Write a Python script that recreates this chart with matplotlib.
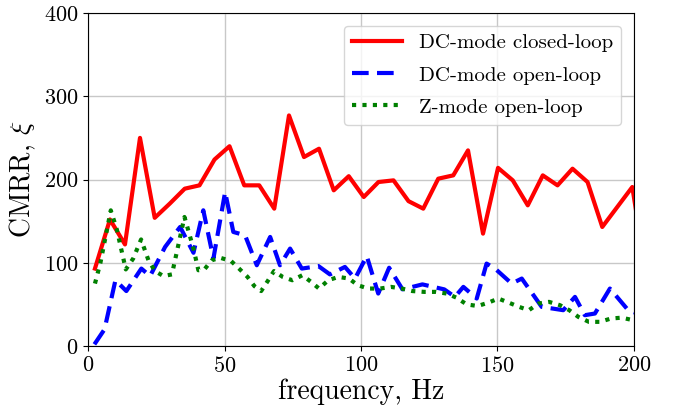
import matplotlib
matplotlib.use("Agg")
import matplotlib.pyplot as plt

plt.rcParams["font.family"] = "serif"
plt.rcParams["font.serif"] = ["cmr10", "DejaVu Serif"]
plt.rcParams["mathtext.fontset"] = "cm"
plt.rcParams["axes.formatter.use_mathtext"] = True

# DC-mode closed-loop
f_closed = [2.5, 8.0, 13.5, 19.0, 24.4, 29.9, 35.4, 40.8, 46.3, 51.8, 57.2, 62.7,
            68.2, 73.6, 79.1, 84.6, 90.0, 95.5, 101.0, 106.4, 111.9, 117.4, 122.8,
            128.3, 133.8, 139.2, 144.7, 150.2, 155.6, 161.1, 166.6, 172.0, 177.5,
            183.0, 188.4, 193.9, 199.4, 204.8]
cmrr_closed = [93, 152, 122, 250, 154, 171, 189, 193, 224, 240, 193, 193, 165, 277,
               227, 237, 187, 204, 179, 197, 199, 174, 165, 201, 205, 235, 135, 214,
               199, 169, 205, 193, 213, 197, 143, 167, 191, 80]

# DC-mode open-loop
f_dc_open = [2.3, 6.0, 10.0, 14.0, 19.5, 22.7, 28.2, 33.7, 38.6, 42.2, 45.9, 50.2,
             53.2, 57.5, 61.8, 66.7, 70.3, 74.0, 78.3, 84.4, 88.6, 94.1, 97.8, 102.1,
             106.3, 110.3, 115.2, 122.5, 130.5, 134.4, 137.5, 142.4, 146.0, 149.1,
             155.2, 158.9, 166.2, 174.1, 178.4, 182.0, 185.7, 191.2, 197.9, 200.5]
cmrr_dc_open = [2, 20, 79, 66, 93, 84, 119, 143, 112, 163, 105, 185, 137, 133, 97,
                131, 97, 117, 93, 96, 86, 95, 81, 108, 63, 94, 68, 74, 68, 59, 71, 57,
                99, 93, 75, 81, 47, 43, 59, 37, 39, 69, 43, 40]

# Z-mode open-loop
f_z_open = [2.5, 4.5, 8.3, 10.5, 13.8, 16.5, 19.4, 22.1, 24.5, 27.6, 30.7, 32.5,
            35.3, 38.6, 40.4, 42.6, 45.3, 48.4, 52.4, 55.3, 58.4, 60.9, 63.4, 65.8,
            68.1, 71.3, 74.8, 78.5, 81.7, 84.6, 88.0, 91.7, 95.6, 98.8, 102.7, 107.0,
            111.0, 114.9, 118.8, 123.2, 127.4, 131.4, 135.0, 138.7, 142.7, 146.6,
            150.3, 154.2, 157.9, 161.5, 165.0, 168.9, 172.9, 176.3, 179.6, 183.5,
            187.5, 191.6, 195.5, 199.7]
cmrr_z_open = [75, 100, 163, 140, 92, 105, 128, 103, 90, 84, 86, 113, 155, 117, 91,
               92, 103, 106, 102, 93, 83, 72, 66, 78, 90, 83, 79, 85, 77, 69, 79, 83,
               81, 73, 69, 69, 71, 69, 66, 65, 65, 63, 58, 50, 48, 52, 57, 52, 47, 43,
               51, 53, 49, 43, 35, 29, 29, 33, 34, 31]

fig = plt.figure(figsize=(6.78, 4.08), dpi=100)
ax = fig.add_axes([0.13, 0.152, 0.805, 0.816])

ax.plot(f_closed, cmrr_closed, color="red", linestyle="-", linewidth=3,
        label="DC-mode closed-loop")
ax.plot(f_dc_open, cmrr_dc_open, color="blue", linestyle=(0, (4, 2)), linewidth=3,
        label="DC-mode open-loop")
ax.plot(f_z_open, cmrr_z_open, color="green", linestyle=(0, (1, 1.5)), linewidth=3,
        label="Z-mode open-loop")

ax.set_xlim(0, 200)
ax.set_ylim(0, 400)
ax.set_xticks([0, 50, 100, 150, 200])
ax.set_yticks([0, 100, 200, 300, 400])
ax.tick_params(labelsize=16)
ax.set_xlabel("frequency, Hz", fontsize=20, labelpad=2)
ax.set_ylabel(r"CMRR, $\xi$", fontsize=20, labelpad=4)
ax.grid(True, color="#c8c8c8", linewidth=1)

ax.legend(loc="upper right", fontsize=15, handlelength=2.4, handletextpad=0.8,
          labelspacing=0.65, borderaxespad=0.6, framealpha=0.8)

fig.savefig("out.png", dpi=100)
